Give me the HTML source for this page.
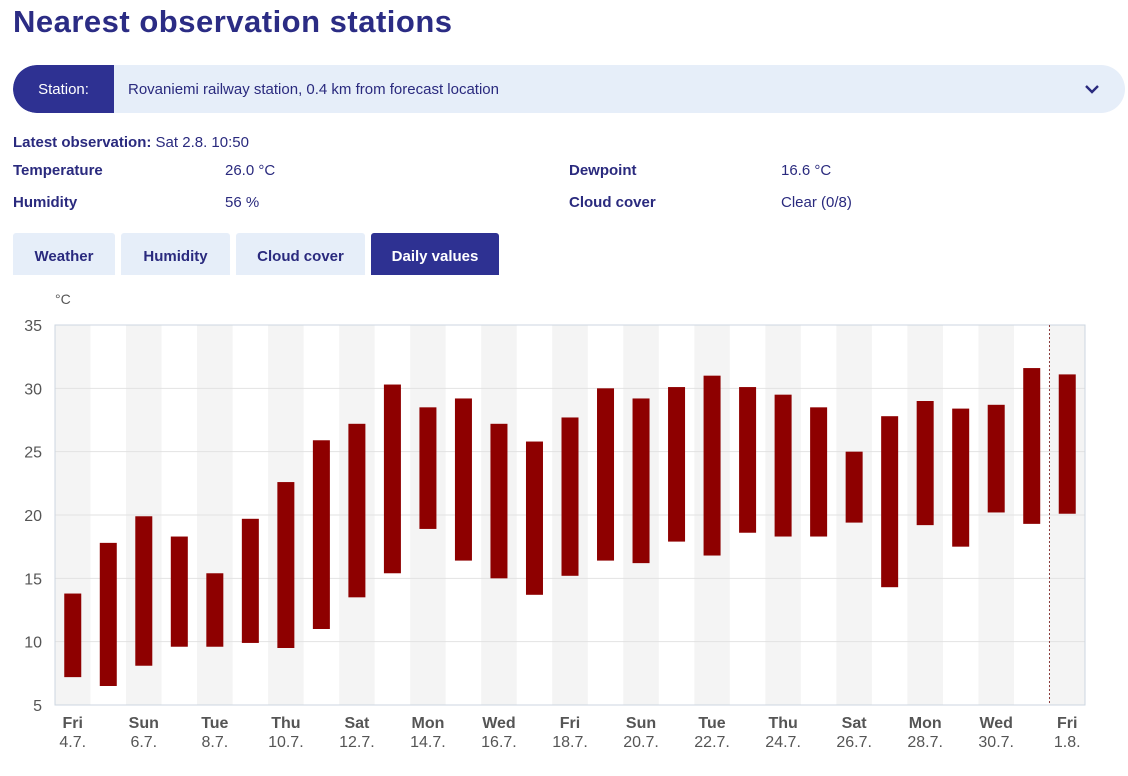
<!DOCTYPE html>
<html><head><meta charset="utf-8"><style>
body{margin:0;width:1128px;height:776px;background:#fff;font-family:"Liberation Sans",sans-serif;color:#2a2a7e;position:relative;overflow:hidden}
.abs{position:absolute}
h1{position:absolute;left:13px;top:4px;margin:0;font-size:31px;letter-spacing:0.5px;font-weight:bold;color:#2b2c84}
.sel{left:13px;top:65px;width:1112px;height:48px;border-radius:24px;background:#e6eef9;overflow:hidden}
.lab{left:0;top:0;width:101px;height:48px;background:#2e3192;color:#fff;font-size:15px;line-height:50px;text-align:center;border-radius:24px 0 0 24px}
.b{font-weight:bold;font-size:15px}
.t{font-size:15px}
.tab{top:233px;height:42px;background:#e6eef9;border-radius:3px 3px 0 0;font-weight:bold;font-size:15px;line-height:48px;text-align:center;color:#2a2a7e}
</style></head><body>
<h1>Nearest observation stations</h1>
<div class="abs sel">
<div class="abs lab">Station:</div>
<div class="abs t" style="left:115px;top:16px;color:#2a2a7e">Rovaniemi railway station, 0.4 km from forecast location</div>
<svg class="abs" style="left:1071px;top:17px" width="16" height="14"><path d="M2 4 L8 10 L14 4" stroke="#2a2a7e" stroke-width="2.4" fill="none"/></svg>
</div>
<div class="abs t" style="left:13px;top:134px"><span class="b">Latest observation:</span> Sat 2.8. 10:50</div>
<div class="abs b" style="left:13px;top:162px">Temperature</div>
<div class="abs t" style="left:225px;top:162px">26.0 °C</div>
<div class="abs b" style="left:13px;top:194px">Humidity</div>
<div class="abs t" style="left:225px;top:194px">56 %</div>
<div class="abs b" style="left:569px;top:162px">Dewpoint</div>
<div class="abs t" style="left:781px;top:162px">16.6 °C</div>
<div class="abs b" style="left:569px;top:194px">Cloud cover</div>
<div class="abs t" style="left:781px;top:194px">Clear (0/8)</div>
<div class="abs tab" style="left:13px;width:102px">Weather</div>
<div class="abs tab" style="left:121px;width:109px">Humidity</div>
<div class="abs tab" style="left:236px;width:129px">Cloud cover</div>
<div class="abs tab" style="left:371px;width:128px;background:#2e3192;color:#fff">Daily values</div>
<svg id="ch" class="abs" style="left:0;top:0" width="1128" height="776"></svg>
<script>
const dayNames=["Fri","Sat","Sun","Mon","Tue","Wed","Thu"];
const dates=["4.7.","5.7.","6.7.","7.7.","8.7.","9.7.","10.7.","11.7.","12.7.","13.7.","14.7.","15.7.","16.7.","17.7.","18.7.","19.7.","20.7.","21.7.","22.7.","23.7.","24.7.","25.7.","26.7.","27.7.","28.7.","29.7.","30.7.","31.7.","1.8."];
const minTemps=[7.2,6.5,8.1,9.6,9.6,9.9,9.5,11.0,13.5,15.4,18.9,16.4,15.0,13.7,15.2,16.4,16.2,17.9,16.8,18.6,18.3,18.3,19.4,14.3,19.2,17.5,20.2,19.3,20.1];
const maxTemps=[13.8,17.8,19.9,18.3,15.4,19.7,22.6,25.9,27.2,30.3,28.5,29.2,27.2,25.8,27.7,30.0,29.2,30.1,31.0,30.1,29.5,28.5,25.0,27.8,29.0,28.4,28.7,31.6,31.1];
const yTicks=[5,10,15,20,25,30,35];
const NS="http://www.w3.org/2000/svg",svg=document.getElementById('ch');
const L=55,R=1085,T=325,B=705,n=dates.length,bw=(R-L)/n;
const y=v=>B-(v-5)/30*(B-T);
const x=i=>L+bw*(i+0.5);
function mk(t,a,p){const e=document.createElementNS(NS,t);for(const k in a)e.setAttribute(k,a[k]);(p||svg).appendChild(e);return e;}
for(let i=0;i<n;i+=2){const r=mk('rect',{x:L+bw*i,y:T,width:bw,height:B-T,fill:'#f4f4f4'});

}
yTicks.forEach(v=>{const g=mk('line',{x1:L,x2:R,y1:y(v),y2:y(v),stroke:'#e2e2e2'});


const t=mk('text',{x:42,y:y(v)+6,'text-anchor':'end','font-size':16,fill:'#555'});t.textContent=v;

});
mk('rect',{x:L,y:T,width:R-L,height:B-T,fill:'none',stroke:'#ccd6e0'});
const u=mk('text',{x:55,y:304,'font-size':14,fill:'#555'});u.textContent='°C';


const dl=mk('line',{x1:L+bw*(n-1),x2:L+bw*(n-1),y1:T,y2:B,stroke:'#8b3a3a','stroke-dasharray':'2,2','stroke-width':1});


for(let i=0;i<n;i++){const b=mk('rect',{x:x(i)-8.5,y:y(maxTemps[i]),width:17,height:y(minTemps[i])-y(maxTemps[i]),fill:'#8e0000'});


if(i%2==0){const t1=mk('text',{x:x(i),y:728,'text-anchor':'middle','font-size':16,'font-weight':'bold',fill:'#555'});t1.textContent=dayNames[i%7];


const t2=mk('text',{x:x(i),y:747,'text-anchor':'middle','font-size':16,fill:'#555'});t2.textContent=dates[i];

}}
</script>
</body></html>
